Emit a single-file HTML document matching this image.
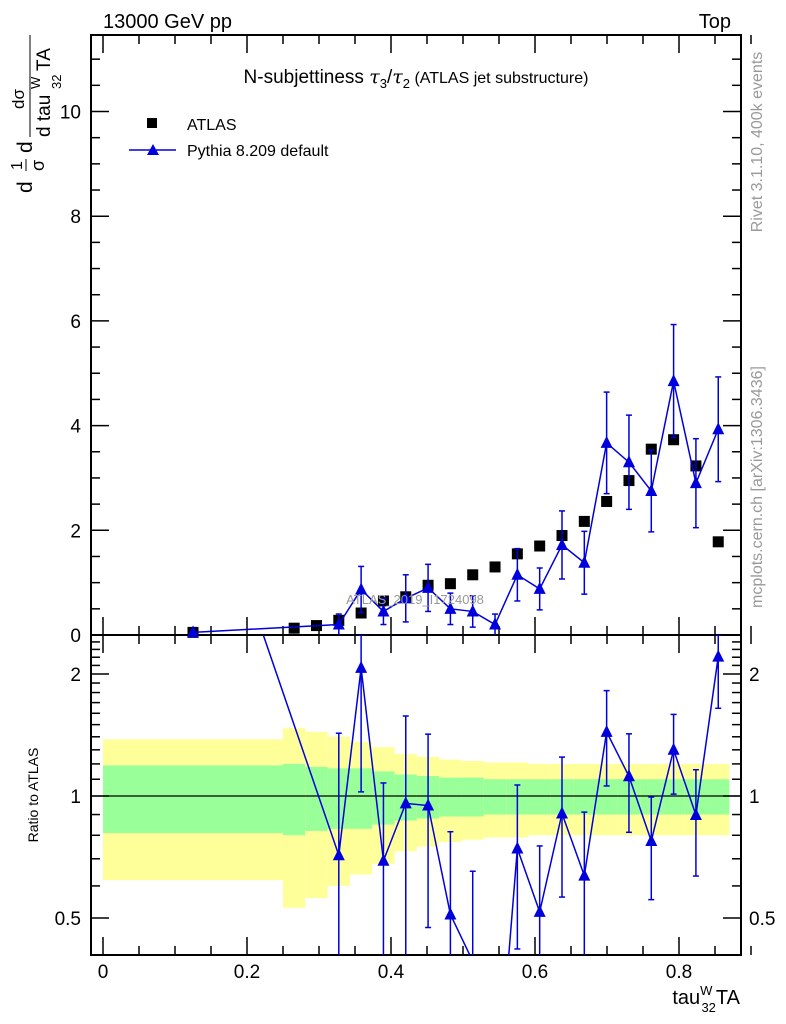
<!DOCTYPE html>
<html><head><meta charset="utf-8"><style>
html,body{margin:0;padding:0;background:#fff;overflow:hidden;width:786px;height:1024px;}
svg{display:block;font-family:"Liberation Sans",sans-serif;}
</style></head><body>
<svg id="c" width="786" height="1024" viewBox="0 0 786 1024" xmlns="http://www.w3.org/2000/svg">
<g id="bands"></g>
<g id="axes"></g>
<g id="marks"></g>
<text x="103" y="28" font-size="20">13000 GeV pp</text>
<text x="731" y="28" font-size="20" text-anchor="end">Top</text>
<text x="416" y="83" font-size="19" text-anchor="middle">N-subjettiness <tspan font-family="'DejaVu Serif',serif" font-style="italic">τ</tspan><tspan font-size="13" dy="5">3</tspan><tspan dy="-5">/</tspan><tspan font-family="'DejaVu Serif',serif" font-style="italic">τ</tspan><tspan font-size="13" dy="5">2</tspan><tspan font-size="16" dy="-5"> (ATLAS jet substructure)</tspan></text>
<g>
<rect x="147" y="118" width="10" height="10" fill="#000"/>
<text x="187" y="130" font-size="16">ATLAS</text>
<line x1="129" y1="150" x2="176" y2="150" stroke="#0000dd" stroke-width="1.5"/>
<polygon points="153,144 147,155 159,155" fill="#0000dd"/>
<text x="187" y="156" font-size="16">Pythia 8.209 default</text>
</g>
<text x="415" y="604" font-size="13" fill="#999" text-anchor="middle">ATLAS_2019_I1724098</text>
<text transform="translate(762,142) rotate(-90)" font-size="16" fill="#999" text-anchor="middle">Rivet 3.1.10,  400k events</text>
<text transform="translate(762,487) rotate(-90)" font-size="16" fill="#999" text-anchor="middle">mcplots.cern.ch [arXiv:1306.3436]</text>
<g transform="translate(0,195) rotate(-90)">
<text x="2" y="32" font-size="21">d</text>
<text x="25" y="22" font-size="16">1</text>
<line x1="24" y1="26" x2="36" y2="26" stroke="#000" stroke-width="1"/>
<text x="24" y="44" font-size="18">σ</text>
<text x="42" y="32" font-size="21">d</text>
<text x="86" y="24" font-size="17">dσ</text>
<line x1="58" y1="30" x2="160" y2="30" stroke="#000" stroke-width="1"/>
<text x="58" y="50" font-size="19">d tau</text>
<text x="106" y="40" font-size="13">W</text>
<text x="106" y="61" font-size="13">32</text>
<text x="124" y="50" font-size="19">TA</text>
</g>
<text transform="translate(38,795) rotate(-90)" font-size="14" text-anchor="middle">Ratio to ATLAS</text>
<text x="740" y="1004" font-size="20" text-anchor="end">tau<tspan font-size="13" dy="-9">W</tspan><tspan font-size="13" dx="-11" dy="17">32</tspan><tspan dy="-8">TA</tspan></text>
</svg>
<script>
const binEdges=[0,0.25,0.281,0.312,0.343,0.374,0.405,0.436,0.467,0.498,0.529,0.56,0.591,0.622,0.653,0.684,0.715,0.746,0.777,0.808,0.839,0.87];
const atlasVals=[0.05,0.13,0.18,0.28,0.42,0.65,0.73,0.95,0.98,1.15,1.3,1.55,1.7,1.9,2.17,2.55,2.95,3.55,3.73,3.23,1.78];
const pythiaVals=[0.05,null,null,0.2,0.87,0.45,0.7,0.9,0.5,0.45,0.2,1.15,0.88,1.72,1.38,3.67,3.3,2.75,4.85,2.9,3.93];
const pythiaErrs=[0.01,null,null,0.2,0.44,0.25,0.45,0.45,0.3,0.3,0.2,0.5,0.4,0.65,0.6,0.97,0.9,0.78,1.08,0.85,1.0];
const innerErr=[0.19,0.2,0.18,0.17,0.17,0.15,0.13,0.12,0.11,0.11,0.1,0.1,0.1,0.1,0.1,0.1,0.1,0.1,0.1,0.1,0.1];
const totalErr=[0.38,0.47,0.44,0.4,0.36,0.32,0.27,0.25,0.23,0.22,0.21,0.21,0.2,0.2,0.2,0.2,0.2,0.2,0.2,0.2,0.2];
const xTicks=[0,0.2,0.4,0.6,0.8];
const yTicks=[0,2,4,6,8,10];
const rTicks=[0.5,1,2];

const NS="http://www.w3.org/2000/svg";
const L=91,R=741,T=35,M=635,B=955;
const X=v=>103+720*v;
const Y=v=>635-52.35*v;
const RY=r=>796-122*Math.log2(r);
const rClip=y=>Math.max(M,Math.min(B,y));
function mk(tag,attrs,parent){const e=document.createElementNS(NS,tag);for(const k in attrs)e.setAttribute(k,attrs[k]);parent.appendChild(e);return e;}
const bands=document.getElementById('bands'),axes=document.getElementById('axes'),marks=document.getElementById('marks');

for(let i=0;i<atlasVals.length;i++){
  const x1=X(binEdges[i]),x2=X(binEdges[i+1]);
  const y1=rClip(RY(1+totalErr[i])),y2=rClip(RY(1-totalErr[i]));
  const ry=mk('rect',{x:x1,y:y1,width:x2-x1,height:y2-y1,fill:'#ffff99'},bands);
  
  
  const g1=RY(1+innerErr[i]),g2=RY(1-innerErr[i]);
  const rg=mk('rect',{x:x1,y:g1,width:x2-x1,height:g2-g1,fill:'#99ff99'},bands);
  
  
}
mk('line',{x1:L,y1:RY(1),x2:R,y2:RY(1),stroke:'#000','stroke-width':1.2},bands);

mk('rect',{x:L,y:T,width:R-L,height:M-T,fill:'none',stroke:'#000','stroke-width':2},axes);
mk('rect',{x:L,y:M,width:R-L,height:B-M,fill:'none',stroke:'#000','stroke-width':2},axes);
for(let k=0;k<=18;k++){
  const v=k*0.05;
  const major=k%4===0;
  const len=major?18:9;
  [[M,-1],[T,1],[B,-1],[M,1]].forEach(([y0,d])=>mk('line',{x1:X(v),x2:X(v),y1:y0,y2:y0+d*len,stroke:'#000','stroke-width':1.5},axes));
}
xTicks.forEach(v=>{const t=mk('text',{x:X(v),y:978,'font-size':19,'text-anchor':'middle'},axes);t.textContent=v===0?'0':v.toFixed(1);

});
for(let k=0;k<=22;k++){
  const v=k*0.5;
  const major=k%4===0;const len=major?18:9;
  mk('line',{x1:L,x2:L+len,y1:Y(v),y2:Y(v),stroke:'#000','stroke-width':1.5},axes);
  mk('line',{x1:R,x2:R-len,y1:Y(v),y2:Y(v),stroke:'#000','stroke-width':1.5},axes);
}
yTicks.forEach(v=>{const t=mk('text',{x:81,y:Y(v)+7,'font-size':19,'text-anchor':'end'},axes);t.textContent=v;

});
const rMinor=[0.5,0.6,0.7,0.8,0.9,1,1.1,1.2,1.3,1.4,1.5,1.6,1.7,1.8,1.9,2,2.1,2.2,2.3,2.4];
rMinor.forEach(r=>{const major=rTicks.includes(r);const len=major?18:9;
  mk('line',{x1:L,x2:L+len,y1:RY(r),y2:RY(r),stroke:'#000','stroke-width':1.5},axes);
  mk('line',{x1:R,x2:R-len,y1:RY(r),y2:RY(r),stroke:'#000','stroke-width':1.5},axes);});
rTicks.forEach(r=>{
  const t=mk('text',{x:81,y:RY(r)+7,'font-size':19,'text-anchor':'end'},axes);t.textContent=r;
  
  
  const t2=mk('text',{x:749,y:RY(r)+7,'font-size':19},axes);t2.textContent=r;
  
  
});

const centers=atlasVals.map((_,i)=>(binEdges[i]+binEdges[i+1])/2);
const blue='#0000dd';
atlasVals.forEach((v,i)=>{const r=mk('rect',{x:X(centers[i])-5.5,y:Y(v)-5.5,width:11,height:11,fill:'#000'},marks);

});
let pts=[];
pythiaVals.forEach((v,i)=>{if(v==null)return;pts.push(X(centers[i])+','+Y(v));});
const pl=mk('polyline',{points:pts.join(' '),fill:'none',stroke:blue,'stroke-width':1.5},marks);


function tri(x,y,name){const p=mk('polygon',{points:`${x},${y-7} ${x-6},${y+5} ${x+6},${y+5}`,fill:blue},marks);

}
function err(x,y1,y2,cap1,cap2){mk('line',{x1:x,x2:x,y1:y1,y2:y2,stroke:blue,'stroke-width':1.5},marks);
 if(cap1)mk('line',{x1:x-3,x2:x+3,y1:y1,y2:y1,stroke:blue,'stroke-width':1.5},marks);
 if(cap2)mk('line',{x1:x-3,x2:x+3,y1:y2,y2:y2,stroke:blue,'stroke-width':1.5},marks);}
pythiaVals.forEach((v,i)=>{if(v==null)return;const x=X(centers[i]);
  const e=pythiaErrs[i];if(e>0.05){const lo=Math.max(0,v-e);err(x,Y(v+e),Y(lo),true,lo>0);}
  tri(x,Y(v),'pythia-point');});
const cp=document.createElementNS(NS,'clipPath');cp.setAttribute('id','rc');mk('rect',{x:L,y:M,width:R-L,height:B-M},cp);document.getElementById('c').appendChild(cp);
const rg=mk('g',{'clip-path':'url(#rc)'},marks);
let rp=[];
pythiaVals.forEach((v,i)=>{if(v==null)return;rp.push(X(centers[i])+','+RY(v/atlasVals[i]*(i===0?8:1)));});
mk('polyline',{points:rp.join(' '),fill:'none',stroke:blue,'stroke-width':1.5},rg);
pythiaVals.forEach((v,i)=>{if(v==null||i===0)return;const x=X(centers[i]);const r=v/atlasVals[i];const e=pythiaErrs[i]/atlasVals[i];
  const top=Math.max(M,RY(r+e)),bot=r-e>0.01?Math.min(B,RY(r-e)):B;
  mk('line',{x1:x,x2:x,y1:top,y2:bot,stroke:blue,'stroke-width':1.5},rg);
  mk('line',{x1:x-3,x2:x+3,y1:top,y2:top,stroke:blue,'stroke-width':1.5},rg);
  if(bot<B)mk('line',{x1:x-3,x2:x+3,y1:bot,y2:bot,stroke:blue,'stroke-width':1.5},rg);
  const y=RY(r);const p=mk('polygon',{points:`${x},${y-7} ${x-6},${y+5} ${x+6},${y+5}`,fill:blue},rg);
  
  
});
</script>
</body></html>
